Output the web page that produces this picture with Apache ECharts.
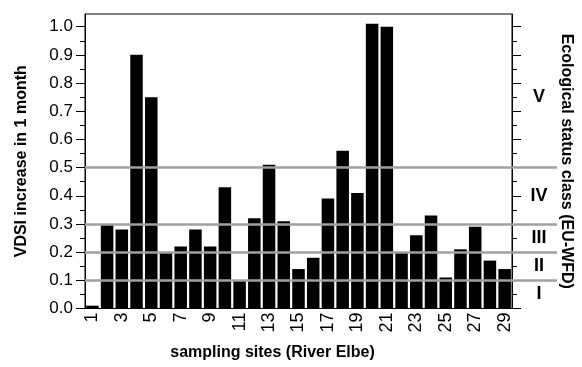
<!DOCTYPE html>
<html>
<head>
<meta charset="utf-8">
<script src="https://cdn.jsdelivr.net/npm/echarts@6/dist/echarts.min.js"></script>
<style>
	html, body { margin: 0; padding: 0; background: #fff; }
	#chart { width: 582px; height: 367px; }
</style>
</head>
<body>
<div id="chart"></div>
<script>
let sites = ['1', '2', '3', '4', '5', '6', '7', '8', '9', '10', '11', '12', '13', '14', '15',
	'16', '17', '18', '19', '20', '21', '22', '23', '24', '25', '26', '27', '28', '29'];
let vdsiIncrease = [0.01, 0.30, 0.28, 0.90, 0.75, 0.20, 0.22, 0.28, 0.22, 0.43, 0.10, 0.32, 0.51, 0.31, 0.14,
	0.18, 0.39, 0.56, 0.41, 1.01, 1.00, 0.20, 0.26, 0.33, 0.11, 0.21, 0.29, 0.17, 0.14];
let majorTicks = [0, 0.1, 0.2, 0.3, 0.4, 0.5, 0.6, 0.7, 0.8, 0.9, 1.0];
let minorTicks = [0.05, 0.15, 0.25, 0.35, 0.45, 0.55, 0.65, 0.75, 0.85, 0.95];
let classBounds = [0.1, 0.2, 0.3, 0.5];
let classNames = ['I', 'II', 'III', 'IV', 'V'];
let classCenters = [0.05, 0.15, 0.25, 0.4, 0.75];

let font = 'Liberation Sans, Arial, sans-serif';
let yMax = 1.045;

let chart = echarts.init(document.getElementById('chart'));

// value axis that only draws ticks (used several times on both sides)
let tickAxis = (position, values, length, extra) => ({
	type: 'value',
	gridIndex: 0,
	position,
	min: 0,
	max: yMax,
	axisLine: {show: false},
	axisTick: {show: true, customValues: values, length, lineStyle: {color: '#000', width: 1}},
	axisLabel: {show: false},
	splitLine: {show: false},
	...extra,
});

let romanFor = (v) => {
	let i = classCenters.findIndex(c => Math.abs(c - v) < 1e-6);
	return i < 0 ? '' : classNames[i];
};

chart.setOption({
	animation: false,
	textStyle: {fontFamily: font, color: '#000'},
	grid: [
		{left: 85, right: 62, top: 14, bottom: 58.5, show: true, borderColor: '#000', borderWidth: 1},
		{left: 85, right: 25, top: 14, bottom: 58.5, show: false},
	],
	xAxis: [
		{
			type: 'category',
			gridIndex: 0,
			data: sites,
			axisLine: {lineStyle: {color: '#000', width: 1}},
			axisTick: {show: false},
			axisLabel: {
				interval: 1,
				rotate: 90,
				margin: 4,
				fontSize: 18,
				color: '#000',
				fontFamily: font,
			},
			name: 'sampling sites (River Elbe)',
			nameLocation: 'middle',
			nameGap: 36,
			nameTextStyle: {fontSize: 16, fontWeight: 'bold', color: '#000', padding: [0, 52, 0, 0]},
		},
		{type: 'value', gridIndex: 1, min: 0, max: 1, show: false},
	],
	yAxis: [
		tickAxis('left', majorTicks, 9, {
			axisLine: {show: true, lineStyle: {color: '#000', width: 1}},
			axisLabel: {
				show: true,
				customValues: majorTicks,
				formatter: (v) => v.toFixed(1),
				fontSize: 17,
				margin: 12,
				color: '#000',
			},
			name: 'VDSI increase in 1 month',
			nameLocation: 'middle',
			nameGap: 55,
			nameTextStyle: {fontSize: 16, fontWeight: 'bold', color: '#000'},
		}),
		tickAxis('left', minorTicks, 5),
		tickAxis('right', majorTicks, 9, {
			axisLine: {show: true, lineStyle: {color: '#000', width: 1}},
			name: 'Ecological status class (EU-WFD)',
			nameLocation: 'middle',
			nameRotate: -90,
			nameGap: 46,
			nameTextStyle: {fontSize: 16, fontWeight: 'bold', color: '#000'},
		}),
		tickAxis('right', minorTicks, 5),
		tickAxis('right', classCenters, 0, {
			axisTick: {show: false},
			axisLabel: {
				show: true,
				customValues: classCenters,
				formatter: romanFor,
				align: 'center',
				margin: 27,
				fontSize: 18,
				fontWeight: 'bold',
				color: '#000',
			},
		}),
		{type: 'value', gridIndex: 1, min: 0, max: yMax, show: false},
	],
	series: [
		{
			type: 'line',
			xAxisIndex: 1,
			yAxisIndex: 5,
			data: [],
			z: 1,
			silent: true,
			markLine: {
				silent: true,
				symbol: ['none', 'none'],
				label: {show: false},
				lineStyle: {color: '#a0a0a0', width: 2.5, type: 'solid'},
				data: classBounds.map(v => ({yAxis: v})),
			},
		},
		{
			type: 'bar',
			xAxisIndex: 0,
			yAxisIndex: 0,
			data: vdsiIncrease,
			barCategoryGap: '15%',
			itemStyle: {color: '#000'},
			z: 3,
		},
	],
});
</script>
</body>
</html>
